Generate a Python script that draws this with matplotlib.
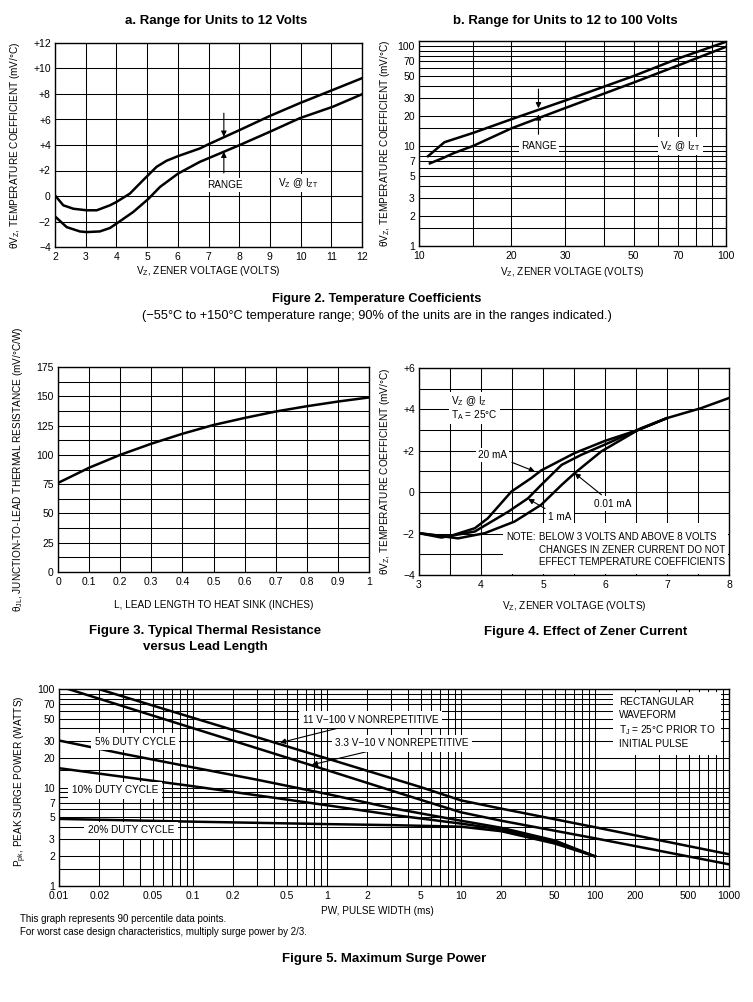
import matplotlib
matplotlib.use('Agg')
import matplotlib.pyplot as plt
from matplotlib.patches import Rectangle

plt.rcParams['font.family'] = ['Liberation Sans', 'DejaVu Sans']
plt.rcParams['mathtext.fontset'] = 'custom'
plt.rcParams['mathtext.rm'] = 'Liberation Sans'
plt.rcParams['mathtext.it'] = 'Liberation Sans:italic'
plt.rcParams['mathtext.bf'] = 'Liberation Sans:bold'

# ---- Figure 2a: temperature coefficient, units to 12 V
a_vz_hi = [2, 2.27, 2.6, 3.03, 3.36, 3.79, 4.0, 4.44, 4.87, 5.31, 5.63, 6.01, 6.72, 7.01, 8.02, 9.0, 9.97, 11.06, 12]
a_tc_hi = [0.05, -0.73, -1.0, -1.12, -1.12, -0.73, -0.47, 0.19, 1.24, 2.29, 2.76, 3.13, 3.73, 4.07, 5.18, 6.28, 7.28, 8.33, 9.24]
a_vz_lo = [2, 2.38, 2.81, 3.03, 3.46, 3.79, 4.0, 4.55, 5.04, 5.42, 6.01, 6.72, 7.5, 8.02, 9.0, 9.97, 11.06, 12]
a_tc_lo = [-1.6, -2.44, -2.78, -2.83, -2.78, -2.51, -2.17, -1.25, -0.23, 0.71, 1.76, 2.68, 3.47, 4.0, 5.04, 6.1, 7.01, 7.98]

# ---- Figure 2b: units 12 to 100 V (log-log)
b_vz_hi = [10.7, 12.1, 15, 20, 30, 50, 70, 100]
b_tc_hi = [7.9, 10.9, 13.5, 18.5, 28.5, 50, 75, 110]
b_vz_lo = [10.85, 12, 13, 15, 20, 30, 50, 70, 100]
b_tc_lo = [6.7, 7.6, 8.5, 10.0, 15.0, 24, 43, 64, 98]

# ---- Figure 3: thermal resistance vs lead length
lead_len = [0, 0.1, 0.2, 0.3, 0.4, 0.5, 0.6, 0.7, 0.8, 0.9, 1.0]
theta_jl = [76, 89, 100, 109.5, 118, 125.5, 131.5, 137, 141.5, 145.5, 149]

# ---- Figure 4: effect of zener current
f4_vz_20ma = [3, 3.47, 3.9, 4.11, 4.49, 4.81, 4.97, 5.51, 6.0, 6.53, 7.0, 7.55, 8.0]
f4_tc_20ma = [-1.98, -2.15, -1.74, -1.26, 0.03, 0.68, 1.05, 1.89, 2.48, 3.0, 3.58, 4.06, 4.55]
f4_vz_1ma = [3, 3.36, 3.9, 4.44, 4.76, 4.97, 5.3, 5.62, 6.05, 6.59, 7.0]
f4_tc_1ma = [-1.98, -2.19, -1.9, -0.94, -0.29, 0.35, 1.32, 1.81, 2.37, 3.1, 3.58]
f4_vz_001ma = [3, 3.63, 4.06, 4.54, 4.97, 5.3, 5.51, 5.94, 6.53, 7.0]
f4_tc_001ma = [-1.98, -2.23, -1.98, -1.42, -0.61, 0.35, 0.92, 1.97, 3.0, 3.58]

# ---- Figure 5: maximum surge power
pw_11v = [0.0197, 0.1, 1, 5, 10, 20, 100, 1000]
pk_11v = [100, 51, 19.7, 10.1, 7.4, 6.1, 3.95, 2.1]
pw_3v3 = [0.0117, 0.1, 1, 5, 10, 20, 100, 1000]
pk_3v3 = [100, 40, 15, 7.5, 5.6, 4.6, 3.05, 1.66]
pw_5pct = [0.01, 0.03, 0.1, 0.3, 1, 3, 10, 20, 50, 100]
pk_5pct = [30, 22, 16, 12, 8.6, 6.2, 4.6, 3.9, 2.9, 2.0]
pw_10pct = [0.01, 0.1, 1, 3, 10, 20, 50, 100]
pk_10pct = [15.7, 10.3, 6.6, 5.3, 4.3, 3.75, 2.8, 2.0]
pw_20pct = [0.01, 0.1, 1, 3, 10, 20, 50, 100]
pk_20pct = [4.8, 4.5, 4.25, 4.15, 4.0, 3.6, 2.7, 2.0]

note_lines = ['BELOW 3 VOLTS AND ABOVE 8 VOLTS', 'CHANGES IN ZENER CURRENT DO NOT',
              'EFFECT TEMPERATURE COEFFICIENTS']

LW = 1.8
GRID = dict(color='black', linewidth=0.75)
TICKFS = 7.5
LABFS = 7.2
WHITE = dict(facecolor='white', edgecolor='none', pad=1.5)

fig = plt.figure(figsize=(7.53, 10.02), dpi=100)


def px_axes(left, top, right, bottom):
    return fig.add_axes([left / 753, 1 - bottom / 1002, (right - left) / 753, (bottom - top) / 1002])


def style(ax):
    ax.set_axisbelow(True)
    ax.grid(True, which='both', **GRID)
    ax.tick_params(which='both', length=0, labelsize=TICKFS)
    ax.tick_params(axis='x', pad=3.5)
    ax.tick_params(axis='y', pad=3)
    for s in ax.spines.values():
        s.set_linewidth(1.0)


def log_grid(axis, labelled, extra):
    axis.set_major_locator(matplotlib.ticker.FixedLocator(labelled))
    axis.set_minor_locator(matplotlib.ticker.FixedLocator(extra))
    axis.set_major_formatter(matplotlib.ticker.FixedFormatter([('%g' % v) for v in labelled]))
    axis.set_minor_formatter(matplotlib.ticker.NullFormatter())


arrow = dict(arrowstyle='-|>', color='black', lw=0.8, mutation_scale=8, shrinkA=0, shrinkB=0)
arrow_lab = dict(arrowstyle='-|>', color='black', lw=0.8, mutation_scale=8, shrinkA=2, shrinkB=0)

# ================= Figure 2a
ax = px_axes(55, 43, 362, 247)
ax.plot(a_vz_hi, a_tc_hi, color='black', lw=LW)
ax.plot(a_vz_lo, a_tc_lo, color='black', lw=LW)
ax.set_xlim(2, 12)
ax.set_ylim(-4, 12)
ax.set_xticks(range(2, 13))
ax.set_yticks(range(-4, 13, 2))
ax.set_yticklabels(['\u22124', '\u22122', '0', '+2', '+4', '+6', '+8', '+10', '+12'])
style(ax)
ax.annotate('', xy=(7.5, 4.65), xytext=(7.5, 6.5), arrowprops=arrow)
ax.annotate('', xy=(7.5, 3.47), xytext=(7.5, 1.8), arrowprops=arrow)
ax.text(7.54, 0.86, 'RANGE', fontsize=LABFS, ha='center', va='center', bbox=WHITE)
ax.text(9.91, 1.02, 'V$_{\\mathregular{Z}}$ @ I$_{\\mathregular{ZT}}$', fontsize=LABFS, ha='center', va='center', bbox=WHITE)
ax.set_xlabel('V$_{\\mathregular{Z}}$, ZENER VOLTAGE (VOLTS)', fontsize=LABFS)
ax.set_ylabel('\u03b8V$_{\\mathregular{Z}}$, TEMPERATURE COEFFICIENT (mV/\u00b0C)', fontsize=LABFS)
ax.xaxis.set_label_coords(0.5, -0.084)
ax.yaxis.set_label_coords(-0.107, 0.5)
fig.text(216 / 753, 1 - 21 / 1002, 'a. Range for Units to 12 Volts', fontsize=9.5, fontweight='bold', ha='center', va='center')

# ================= Figure 2b
ax = px_axes(419, 41, 726, 246)
ax.plot(b_vz_hi, b_tc_hi, color='black', lw=LW)
ax.plot(b_vz_lo, b_tc_lo, color='black', lw=LW)
ax.set_xscale('log')
ax.set_yscale('log')
ax.set_xlim(10, 100)
ax.set_ylim(1, 112)
log_grid(ax.xaxis, [10, 20, 30, 50, 70, 100], [15, 40, 60, 80, 90])
log_grid(ax.yaxis, [1, 2, 3, 5, 7, 10, 20, 30, 50, 70, 100], [1.5, 4, 6, 8, 9, 15, 40, 60, 80, 90])
style(ax)
ax.annotate('', xy=(24.5, 23.8), xytext=(24.5, 37), arrowprops=arrow)
ax.annotate('', xy=(24.5, 20.7), xytext=(24.5, 13.1), arrowprops=arrow)
ax.text(24.6, 10, 'RANGE', fontsize=LABFS, ha='center', va='center', bbox=WHITE)
ax.text(71, 10, 'V$_{\\mathregular{Z}}$ @ I$_{\\mathregular{ZT}}$', fontsize=LABFS, ha='center', va='center', bbox=WHITE)
ax.set_xlabel('V$_{\\mathregular{Z}}$, ZENER VOLTAGE (VOLTS)', fontsize=LABFS)
ax.set_ylabel('\u03b8V$_{\\mathregular{Z}}$, TEMPERATURE COEFFICIENT (mV/\u00b0C)', fontsize=LABFS)
ax.xaxis.set_label_coords(0.5, -0.093)
ax.yaxis.set_label_coords(-0.088, 0.5)
fig.text(565 / 753, 1 - 21 / 1002, 'b. Range for Units to 12 to 100 Volts', fontsize=9.5, fontweight='bold', ha='center', va='center')

fig.text(377 / 753, 1 - 299 / 1002, 'Figure 2. Temperature Coefficients', fontsize=9.2, fontweight='bold', ha='center', va='center')
fig.text(377 / 753, 1 - 316 / 1002, '(\u221255\u00b0C to +150\u00b0C temperature range; 90% of the units are in the ranges indicated.)',
         fontsize=9.2, ha='center', va='center')

# ================= Figure 3
ax = px_axes(58, 367, 369, 572)
ax.plot(lead_len, theta_jl, color='black', lw=LW)
ax.set_xlim(0, 1)
ax.set_ylim(0, 175)
ax.set_xticks([i / 10 for i in range(11)])
ax.set_xticklabels(['0', '0.1', '0.2', '0.3', '0.4', '0.5', '0.6', '0.7', '0.8', '0.9', '1'])
ax.set_yticks(range(0, 176, 25))
ax.set_yticks([12.5 + 25 * i for i in range(7)], minor=True)
style(ax)
ax.set_xlabel('L, LEAD LENGTH TO HEAT SINK (INCHES)', fontsize=LABFS)
ax.set_ylabel('\u03b8$_{\\mathregular{JL}}$, JUNCTION-TO-LEAD THERMAL RESISTANCE (mV/\u00b0C/W)', fontsize=LABFS)
ax.xaxis.set_label_coords(0.5, -0.136)
ax.yaxis.set_label_coords(-0.106, 0.5)
fig.text(205 / 753, 1 - 631 / 1002, 'Figure 3. Typical Thermal Resistance', fontsize=9.5, fontweight='bold', ha='center', va='center')
fig.text(205 / 753, 1 - 647 / 1002, 'versus Lead Length', fontsize=9.5, fontweight='bold', ha='center', va='center')

# ================= Figure 4
ax = px_axes(419, 368, 729, 575)
ax.plot(f4_vz_20ma, f4_tc_20ma, color='black', lw=LW, zorder=3)
ax.plot(f4_vz_1ma, f4_tc_1ma, color='black', lw=LW, zorder=3)
ax.plot(f4_vz_001ma, f4_tc_001ma, color='black', lw=LW, zorder=3)
ax.set_xlim(3, 8)
ax.set_ylim(-4, 6)
ax.set_xticks(range(3, 9))
ax.set_xticks([3.5, 4.5, 5.5, 6.5, 7.5], minor=True)
ax.set_yticks(range(-4, 7, 2))
ax.set_yticks([-3, -1, 1, 3, 5], minor=True)
ax.set_yticklabels(['\u22124', '\u22122', '0', '+2', '+4', '+6'])
style(ax)
ax.add_patch(Rectangle((4.35, -3.93), 3.63, 2.45, facecolor='white', edgecolor='none', zorder=1))
ax.text(4.40, -2.15, 'NOTE:', fontsize=7.0, ha='left', va='center', zorder=4)
for i, line in enumerate(note_lines):
    ax.text(4.93, -2.15 - 0.62 * i, line, fontsize=7.0, ha='left', va='center', zorder=4)
ax.text(3.52, 4.05, 'V$_{\\mathregular{Z}}$ @ I$_{\\mathregular{Z}}$\nT$_{\\mathregular{A}}$ = 25\u00b0C', fontsize=LABFS,
        ha='left', va='center', linespacing=1.0, bbox=WHITE)
ax.annotate('20 mA', xy=(4.87, 1.0), xytext=(4.19, 1.81), fontsize=LABFS, ha='center', va='center',
            bbox=WHITE, arrowprops=arrow_lab)
ax.annotate('1 mA', xy=(4.76, -0.32), xytext=(5.27, -1.2), fontsize=LABFS, ha='center', va='center',
            bbox=WHITE, arrowprops=arrow_lab)
ax.annotate('0.01 mA', xy=(5.51, 0.92), xytext=(6.12, -0.55), fontsize=LABFS, ha='center', va='center',
            bbox=WHITE, arrowprops=arrow_lab)
ax.set_xlabel('V$_{\\mathregular{Z}}$, ZENER VOLTAGE (VOLTS)', fontsize=LABFS)
ax.set_ylabel('\u03b8V$_{\\mathregular{Z}}$, TEMPERATURE COEFFICIENT (mV/\u00b0C)', fontsize=LABFS)
ax.xaxis.set_label_coords(0.5, -0.116)
ax.yaxis.set_label_coords(-0.087, 0.5)
fig.text(586 / 753, 1 - 632 / 1002, 'Figure 4. Effect of Zener Current', fontsize=9.5, fontweight='bold', ha='center', va='center')

# ================= Figure 5
ax = px_axes(59, 689, 729, 886)
for xs, ys in [(pw_11v, pk_11v), (pw_3v3, pk_3v3), (pw_5pct, pk_5pct), (pw_10pct, pk_10pct), (pw_20pct, pk_20pct)]:
    ax.plot(xs, ys, color='black', lw=LW, zorder=3)
ax.set_xscale('log')
ax.set_yscale('log')
ax.set_xlim(0.01, 1000)
ax.set_ylim(1, 100)
x_lab = [0.01, 0.02, 0.05, 0.1, 0.2, 0.5, 1, 2, 5, 10, 20, 50, 100, 200, 500, 1000]
x_extra = [m * 10.0 ** e for e in range(-2, 3) for m in (3, 4, 6, 7, 8, 9)]
log_grid(ax.xaxis, x_lab, x_extra)
log_grid(ax.yaxis, [1, 2, 3, 5, 7, 10, 20, 30, 50, 70, 100], [1.5, 4, 6, 8, 9, 15, 40, 60, 80, 90])
style(ax)
box = dict(facecolor='white', edgecolor='none', pad=2.5)
ax.text(0.037, 29.2, '5% DUTY CYCLE', fontsize=LABFS, ha='center', va='center', bbox=box)
ax.text(0.0262, 9.4, '10% DUTY CYCLE', fontsize=LABFS, ha='center', va='center', bbox=box)
ax.text(0.0344, 3.7, '20% DUTY CYCLE', fontsize=LABFS, ha='center', va='center', bbox=box)
ax.annotate('11 V\u2212100 V NONREPETITIVE', xy=(0.446, 28.5), xytext=(0.66, 48.5), fontsize=LABFS, ha='left', va='center',
            bbox=box, arrowprops=arrow)
ax.annotate('3.3 V\u221210 V NONREPETITIVE', xy=(0.77, 17.0), xytext=(1.15, 28.1), fontsize=LABFS, ha='left', va='center',
            bbox=box, arrowprops=arrow)
ax.text(151, 82, 'RECTANGULAR\nWAVEFORM\nT$_{\\mathregular{J}}$ = 25\u00b0C PRIOR TO\nINITIAL PULSE', fontsize=LABFS,
        ha='left', va='top', linespacing=1.3, bbox=dict(facecolor='white', edgecolor='none', pad=4))
ax.set_xlabel('PW, PULSE WIDTH (ms)', fontsize=LABFS)
ax.set_ylabel('P$_{\\mathregular{pk}}$, PEAK SURGE POWER (WATTS)', fontsize=LABFS)
ax.xaxis.set_label_coords(0.475, -0.102)
ax.yaxis.set_label_coords(-0.045, 0.53)

fig.text(20 / 753, 1 - 919 / 1002, 'This graph represents 90 percentile data points.', fontsize=7, ha='left', va='center')
fig.text(20 / 753, 1 - 932 / 1002, 'For worst case design characteristics, multiply surge power by 2/3.', fontsize=7, ha='left', va='center')
fig.text(384 / 753, 1 - 959 / 1002, 'Figure 5. Maximum Surge Power', fontsize=9.5, fontweight='bold', ha='center', va='center')

fig.savefig('out.png', dpi=100)
